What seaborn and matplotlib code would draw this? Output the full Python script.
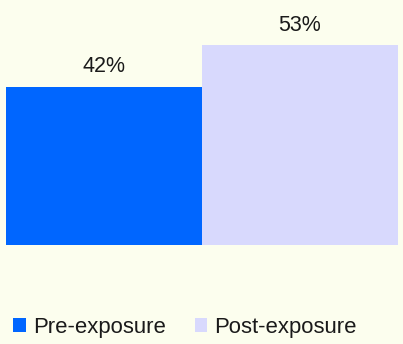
import matplotlib
matplotlib.use("Agg")
import matplotlib.pyplot as plt
import seaborn as sns
import pandas as pd
from matplotlib.patches import Patch

categories = ["Pre-exposure", "Post-exposure"]
values = [42, 53]
labels = ["42%", "53%"]
colors = ["#0066FF", "#D8D9FD"]
bg = "#FCFEEE"

sns.set_theme(style="white")
plt.rcParams["font.family"] = ["Liberation Sans", "DejaVu Sans"]

df = pd.DataFrame({"cat": categories, "val": values})

fig = plt.figure(figsize=(4.03, 3.44), dpi=100, facecolor=bg)
ax = fig.add_axes([6/403, 99/344, 392/403, 245/344])
ax.set_facecolor(bg)
sns.barplot(data=df, x="cat", y="val", hue="cat", palette=colors, width=1.0,
            ax=ax, legend=False, saturation=1, linewidth=0, edgecolor="none")
ax.set_xlim(-0.5, 1.5)
ax.set_ylim(0, 65)
ax.axis("off")
for i, (v, t) in enumerate(zip(values, labels)):
    ax.annotate(t, (i, v), xytext=(0, 10.3), textcoords="offset points",
                ha="center", va="baseline", fontsize=15.5, color="#1a1a1a")

fs = 15.9
handles = [Patch(facecolor=c, edgecolor="none") for c in colors]
fig.legend(handles, categories, loc="center left", bbox_to_anchor=(13/403, 1 - 327.5/344),
           ncol=2, frameon=False, fontsize=fs, handlelength=0.57, handleheight=0.57,
           handletextpad=0.32, columnspacing=1.32, borderpad=0, borderaxespad=0,
           labelcolor="#1a1a1a")
fig.savefig("out.png", dpi=100, facecolor=bg)
